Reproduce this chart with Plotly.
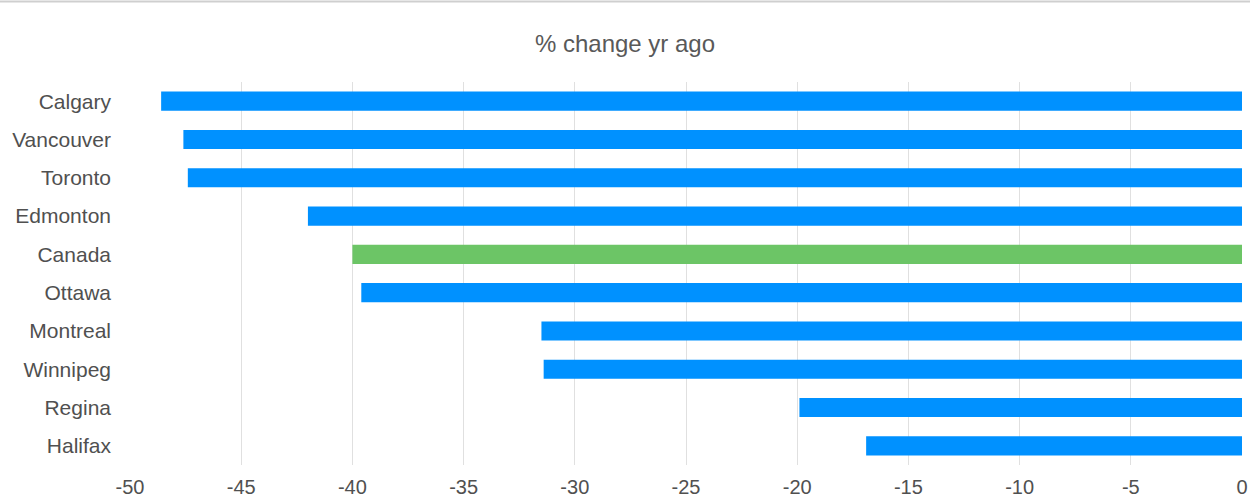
import plotly.graph_objects as go

cities = ["Calgary", "Vancouver", "Toronto", "Edmonton", "Canada",
          "Ottawa", "Montreal", "Winnipeg", "Regina", "Halifax"]
values = [-48.6, -47.6, -47.4, -42.0, -40.0, -39.6, -31.5, -31.4, -19.9, -16.9]
highlight = "Canada"
tick_vals = [-50, -45, -40, -35, -30, -25, -20, -15, -10, -5, 0]
tick_text = ["-50", "-45", "-40", "-35", "-30", "-25", "-20", "-15", "-10", "-5", "0"]
title_text = "% change yr ago"

BLUE = "#0091FF"
GREEN = "#6CC566"
colors = [GREEN if c == highlight else BLUE for c in cities]

fig = go.Figure(go.Bar(
    x=values, y=cities, orientation="h",
    marker=dict(color=colors, line=dict(width=0)),
    width=0.5,
))

fig.update_layout(
    width=1250, height=502,
    margin=dict(l=130, r=8, t=82, b=37, autoexpand=False),
    paper_bgcolor="white", plot_bgcolor="white",
    showlegend=False,
    font=dict(family="Liberation Sans, Arial, sans-serif", color="#595959"),
    title=dict(text=title_text, x=0.5, xanchor="center", y=1 - 44 / 502,
               yanchor="middle", font=dict(size=24, color="#595959")),
    xaxis=dict(range=[-50, 0], tickvals=tick_vals, ticktext=tick_text,
               showgrid=True, automargin=False,
               gridcolor="#E0E0E0", gridwidth=1, zeroline=False,
               showline=False, tickfont=dict(size=20, color="#505050"),
               ticklabelstandoff=8, fixedrange=True),
    yaxis=dict(autorange="reversed", showgrid=False, zeroline=False,
               automargin=False,
               showline=False, tickfont=dict(size=21, color="#505050"),
               ticklabelstandoff=18),
    shapes=[dict(type="line", xref="paper", yref="paper",
                 x0=-130 / 1112, x1=1 + 8 / 1112,
                 y0=1 + (82 - 1.5) / 383, y1=1 + (82 - 1.5) / 383,
                 line=dict(color="#CFCFCF", width=2))],
)

fig.write_html("out.html")
